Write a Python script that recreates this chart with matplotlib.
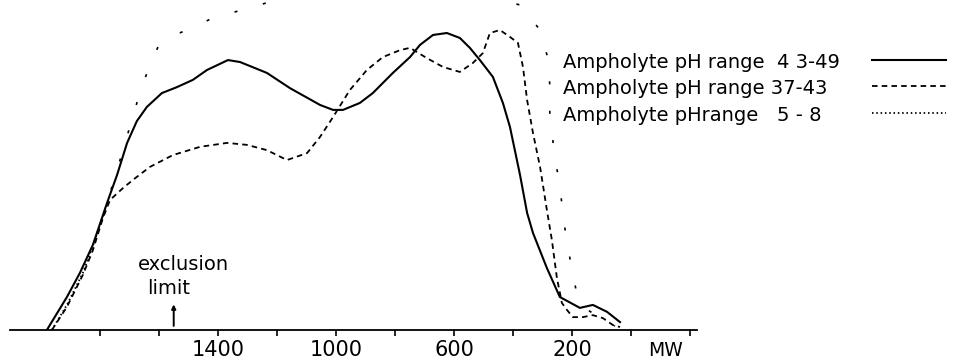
import matplotlib
matplotlib.use("Agg")
import matplotlib.pyplot as plt
from matplotlib.lines import Line2D

plt.rcParams["lines.scale_dashes"] = False
plt.rcParams["font.family"] = ["DejaVu Sans"]

# ---- data (x: apparent MW, y: absorbance, arbitrary units 0-100) ----
mw_solid = [1980, 1912, 1868, 1824, 1776, 1742, 1708, 1675, 1641, 1590, 1539, 1485,
            1437, 1366, 1325, 1234, 1156, 1054, 1010, 976, 919, 875, 807, 749, 715,
            671, 624, 580, 546, 512, 468, 434, 410, 376, 352, 332, 285, 241, 173, 129,
            81, 37]
abs_solid = [0, 10.0, 17.3, 25.8, 38.5, 47.0, 56.7, 63.3, 67.6, 71.8, 73.6, 75.8,
             78.8, 81.8, 81.2, 77.9, 73.3, 68.2, 66.7, 66.7, 68.8, 71.8, 77.9, 82.7, 86.4,
             89.4, 90.0, 88.5, 85.5, 81.8, 76.7, 68.8, 61.5, 47.0, 35.5, 29.4, 18.8, 10.0,
             6.7, 7.6, 5.5, 2.4]

mw_dashed = [1963, 1912, 1858, 1824, 1790, 1766, 1722, 1688, 1631, 1553, 1461, 1369,
             1302, 1234, 1166, 1098, 1054, 1010, 953, 895, 841, 783, 749, 692, 637, 580,
             536, 502, 478, 444, 410, 383, 366, 352, 332, 308, 285, 268, 251, 234, 217,
             197, 163, 129, 95, 61, 37]
abs_dashed = [0, 7.0, 16.7, 24.2, 33.9, 39.4, 43.0, 45.5, 49.4, 53.0, 55.5, 56.7,
              56.1, 54.5, 51.5, 53.6, 58.5, 64.5, 72.7, 78.8, 82.7, 84.8, 85.5, 82.4,
              79.7, 78.2, 80.9, 83.9, 90.0, 90.9, 88.8, 87.0, 79.7, 69.7, 59.7, 49.4,
              36.4, 27.3, 15.8, 8.2, 6.1, 3.9, 3.9, 4.5, 3.6, 1.5, 0.9]

mw_dotted = [1963, 1912, 1858, 1817, 1783, 1732, 1664, 1631, 1603, 1570, 1522, 1393,
             1342, 1258, 1122, 851, 580, 376, 308, 278, 275, 275, 258, 244, 224, 207,
             186, 156, 105, 54]
abs_dotted = [0, 7.6, 17.3, 27.3, 36.4, 51.5, 72.1, 80.3, 85.8, 88.5, 90.3, 95.5,
              96.4, 98.5, 102.4, 104.5, 103.0, 98.5, 90.9, 81.2, 73.3, 65.8, 52.1, 45.5,
              30.9, 21.8, 12.1, 6.7, 3.6, 1.2]
dotted_clear_points = 5   # first points of the 5-8 trace that are printed clearly

legend_labels = ["Ampholyte pH range  4 3-49",
                 "Ampholyte pH range 37-43",
                 "Ampholyte pHrange   5 - 8"]

tick_positions = [1800, 1600, 1400, 1200, 1000, 800, 600, 400, 200, 0, -200]
tick_labels = ["", "", "1400", "", "1000", "", "600", "", "200", "", ""]
exclusion_limit_mw = 1550

# ---- figure ----
W, H = 956, 361
fig = plt.figure(figsize=(W / 100, H / 100), dpi=100)
ax = fig.add_axes([10 / W, 31 / H, 687 / W, 330 / H])
ax.set_xlim(2105, -224)
ax.set_ylim(0, 100)

for s in ("top", "right", "left"):
    ax.spines[s].set_visible(False)
ax.spines["bottom"].set_linewidth(1.3)
ax.set_yticks([])
ax.set_xticks(tick_positions)
ax.set_xticklabels(tick_labels, fontsize=15)
ax.tick_params(axis="x", direction="out", length=4, width=1.2, pad=3)

solid_style = dict(color="black", lw=1.5, linestyle="-")
dashed_style = dict(color="black", lw=1.3, linestyle=(0, (4.0, 3.0)))
dotted_style = dict(color="black", lw=1.3, linestyle=(0, (1.1, 2.0)))

ax.plot(mw_solid, abs_solid, **solid_style)
ax.plot(mw_dashed, abs_dashed, **dashed_style)
ax.plot(mw_dotted[:dotted_clear_points], abs_dotted[:dotted_clear_points], **dotted_style)
# faint, partly lost print of the 5-8 trace
ax.plot(mw_dotted[dotted_clear_points - 1:], abs_dotted[dotted_clear_points - 1:],
        color="black", lw=1.2, linestyle=(6, (2.2, 19)))

# exclusion limit marker
ax.annotate("", xy=(exclusion_limit_mw, 8.6), xytext=(exclusion_limit_mw, 0.4),
            arrowprops=dict(arrowstyle="-|>", color="black", lw=1.4, mutation_scale=6))
ax.text(1671, 19.7, "exclusion", fontsize=14, ha="left", va="center")
ax.text(1641, 12.7, "limit", fontsize=14, ha="left", va="center")

fig.text(665 / W, 1 - 350 / H, "MW", fontsize=13.5, ha="center", va="center")

# legend (text followed by line sample)
rows_y = [62, 88, 115]
styles = [solid_style, dashed_style, dotted_style]
for label, yy, st in zip(legend_labels, rows_y, styles):
    fig.text(563 / W, 1 - yy / H, label, fontsize=14, ha="left", va="center")
    fig.add_artist(Line2D([872 / W, 946 / W], [1 - (yy - 2) / H] * 2,
                          transform=fig.transFigure, **st))

fig.savefig("out.png", dpi=100)
